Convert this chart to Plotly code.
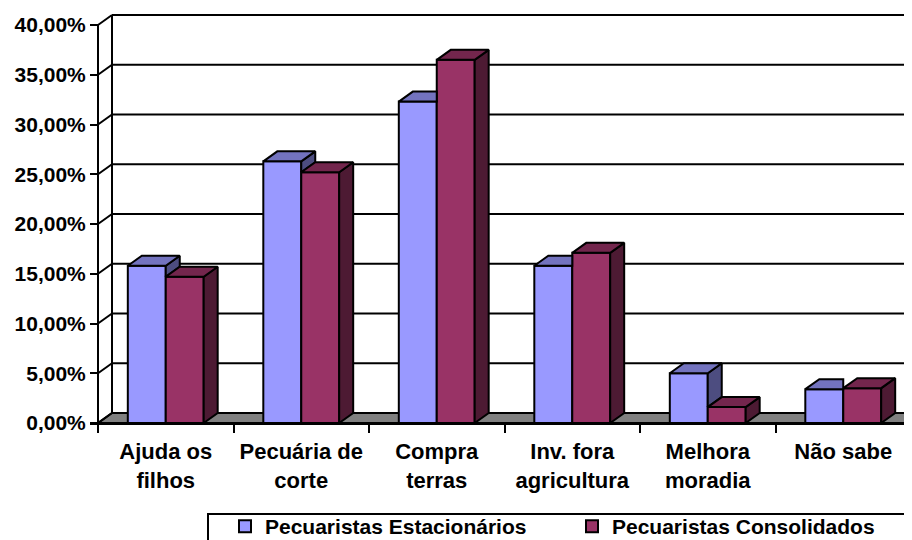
import plotly.graph_objects as go

# ---------------- data ----------------
categories = ["Ajuda os<br>filhos", "Pecuária de<br>corte", "Compra<br>terras",
              "Inv. fora<br>agricultura", "Melhora<br>moradia", "Não sabe"]
estacionarios = [15.8, 26.3, 32.3, 15.8, 5.0, 3.4]
consolidados = [14.7, 25.2, 36.5, 17.1, 1.6, 3.5]
series_names = ["Pecuaristas Estacionários", "Pecuaristas Consolidados"]
y_tickvals = [0, 5, 10, 15, 20, 25, 30, 35, 40]
y_ticktext = ["0,00%", "5,00%", "10,00%", "15,00%", "20,00%", "25,00%",
              "30,00%", "35,00%", "40,00%"]

# ---------------- geometry / style ----------------
# the page body has an 8px margin, so the figure is drawn 8px in from the window corner
OFF = 8
WIN_W, WIN_H = 912, 540
W, H = WIN_W - OFF, WIN_H - OFF
L = 90 - OFF                # left margin (figure px)
AX_PX = 98 - OFF            # front value axis (figure px)
PLOT_H = 423 - OFF          # plot height (value 0 at bottom)
CAT_PX = 135.5              # pixel width of one category
PX_PER_UNIT = 9.95
YMAX = PLOT_H / PX_PER_UNIT
x_lo = -0.5 - (AX_PX - L) / CAT_PX
x_hi = -0.5 + (W - AX_PX) / CAT_PX
DX = 14 / CAT_PX            # 3D depth offset (x, data units)
DY = 10 / PX_PER_UNIT       # 3D depth offset (y, data units)
BW = 0.28                   # bar width

FONT = "Liberation Sans, Arial, sans-serif"
BLUE = ["#9999FF", "#7373BF", "#4D4D80"]   # front, top, side
RED = ["#993366", "#73264D", "#4D1A33"]

xs = list(range(len(categories)))


def poly_trace(polys, color):
    px, py = [], []
    for p in polys:
        for a, b in p:
            px.append(a)
            py.append(b)
        px.append(p[0][0])
        py.append(p[0][1])
        px.append(None)
        py.append(None)
    return go.Scatter(x=px, y=py, mode="lines", fill="toself", fillcolor=color,
                      line=dict(color="black", width=2), hoverinfo="skip",
                      showlegend=False)


fig = go.Figure()

# front faces as real bars
fig.add_trace(go.Bar(x=xs, y=estacionarios, width=BW, offset=-BW, name=series_names[0],
                     marker=dict(color=BLUE[0], line=dict(color="black", width=2)),
                     hoverinfo="skip"))
fig.add_trace(go.Bar(x=xs, y=consolidados, width=BW, offset=0, name=series_names[1],
                     marker=dict(color=RED[0], line=dict(color="black", width=2)),
                     hoverinfo="skip"))

# 3D faces computed from the data
blue_side, blue_top, red_side, red_top = [], [], [], []
for c, vb, vr in zip(xs, estacionarios, consolidados):
    if vb > vr:
        blue_side.append([(c, vr), (c + DX, vr + DY), (c + DX, vb + DY), (c, vb)])
    if vb >= vr:
        blue_top.append([(c - BW, vb), (c, vb), (c + DX, vb + DY), (c - BW + DX, vb + DY)])
    else:
        blue_top.append([(c - BW, vb), (c, vb), (c, vb + DY), (c - BW + DX, vb + DY)])
    red_side.append([(c + BW, 0), (c + BW + DX, DY), (c + BW + DX, vr + DY), (c + BW, vr)])
    red_top.append([(c, vr), (c + BW, vr), (c + BW + DX, vr + DY), (c + DX, vr + DY)])

fig.add_trace(poly_trace(blue_side, BLUE[2]))
fig.add_trace(poly_trace(blue_top, BLUE[1]))
fig.add_trace(poly_trace(red_side, RED[2]))
fig.add_trace(poly_trace(red_top, RED[1]))

# walls, floor and gridlines
shapes = []
xf = -0.5
xr = x_hi + 1
shapes.append(dict(type="path", xref="x", yref="y", layer="below",
                   path=f"M {xf},0 L {xr},0 L {xr + DX},{DY} L {xf + DX},{DY} Z",
                   fillcolor="#808080", line=dict(color="black", width=2)))
for v in y_tickvals:
    if v > 0:
        shapes.append(dict(type="line", xref="x", yref="y", layer="below",
                           x0=xf + DX, y0=v + DY, x1=xr, y1=v + DY,
                           line=dict(color="black", width=2)))
    shapes.append(dict(type="line", xref="x", yref="y", layer="below",
                       x0=xf, y0=v, x1=xf + DX, y1=v + DY,
                       line=dict(color="black", width=2)))
shapes.append(dict(type="line", xref="x", yref="y", layer="below",
                   x0=xf + DX, y0=DY, x1=xf + DX, y1=y_tickvals[-1] + DY,
                   line=dict(color="black", width=2)))
shapes.append(dict(type="line", xref="x", yref="y", layer="below",
                   x0=xf, y0=0, x1=xf, y1=y_tickvals[-1],
                   line=dict(color="black", width=2)))


def px_x(sx):   # window px -> paper x
    return (sx - OFF - L) / (W - L)


def px_y(sy):   # window px -> paper y
    return (PLOT_H - (sy - OFF)) / PLOT_H


# legend frame (extends past the bottom edge, as in the reference)
shapes.append(dict(type="rect", xref="paper", yref="paper", layer="above",
                   x0=px_x(208), x1=px_x(908), y0=px_y(514), y1=px_y(570),
                   fillcolor="white", line=dict(color="black", width=2)))

fig.update_layout(
    width=W, height=H,
    margin=dict(l=L, r=0, t=0, b=H - PLOT_H, autoexpand=False),
    paper_bgcolor="white", plot_bgcolor="white",
    barmode="overlay",
    shapes=shapes,
    showlegend=True,
    legend=dict(orientation="h", x=px_x(225), xanchor="left",
                y=px_y(506), yanchor="top",
                bgcolor="rgba(0,0,0,0)", borderwidth=0,
                font=dict(family=FONT, size=21, color="black", weight="bold"),
                entrywidth=302, entrywidthmode="pixels", traceorder="normal"),
    xaxis=dict(range=[x_lo, x_hi], tickmode="array", tickvals=xs, ticktext=categories,
               ticks="", showgrid=False, zeroline=False,
               showline=True, linecolor="black", linewidth=2,
               ticklabelstandoff=8,
               tickfont=dict(family=FONT, size=22, color="black", weight="bold"),
               minor=dict(tickmode="array", tickvals=[i - 0.5 for i in range(len(categories) + 1)],
                          ticks="outside", ticklen=8, tickwidth=2, tickcolor="black",
                          showgrid=False),
               fixedrange=True),
    yaxis=dict(range=[0, YMAX], tickmode="array", tickvals=y_tickvals, ticktext=y_ticktext,
               anchor="free", position=(AX_PX - L) / (W - L),
               ticks="outside", ticklen=8, tickwidth=2, tickcolor="black",
               showgrid=False, zeroline=False, showline=False,
               tickfont=dict(family=FONT, size=21, color="black", weight="bold"),
               fixedrange=True),
)

fig.write_html("out.html")
